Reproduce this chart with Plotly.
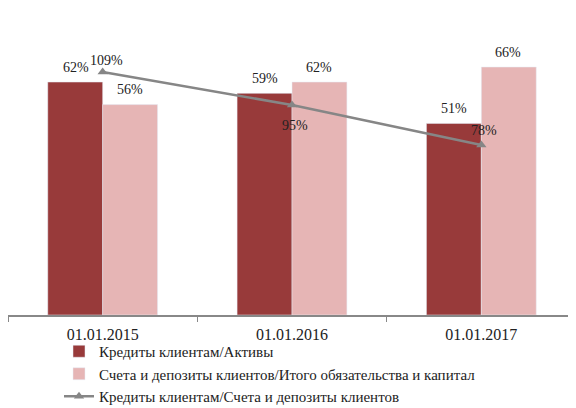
import plotly.graph_objects as go

categories = ["01.01.2015", "01.01.2016", "01.01.2017"]
loans_assets = [62, 59, 51]
deposits_liab = [56, 62, 66]
loans_deposits = [109, 95, 78]

name1 = "Кредиты клиентам/Активы"
name2 = "Счета и депозиты клиентов/Итого обязательства и капитал"
name3 = "Кредиты клиентам/Счета и депозиты клиентов"

FONT = "Liberation Serif"
LBL = dict(family=FONT, size=14, color="#222")

fig = go.Figure()
fig.add_trace(go.Bar(x=categories, y=loans_assets, name=name1, marker_color="#983A3A"))
fig.add_trace(go.Bar(x=categories, y=deposits_liab, name=name2, marker_color="#E6B5B5"))
fig.add_trace(go.Scatter(
    x=categories, y=loans_deposits, name=name3, yaxis="y2",
    mode="lines+markers",
    line=dict(color="#868686", width=2.5),
    marker=dict(symbol="triangle-up", size=9, color="#868686"),
    cliponaxis=False,
))

# data labels
for c, v in zip(categories, loans_assets):
    fig.add_annotation(x=c, y=v, xref="x", yref="y", text=f"{v}%", showarrow=False,
                       xshift=-27, yshift=15, font=LBL)
for c, v in zip(categories, deposits_liab):
    fig.add_annotation(x=c, y=v, xref="x", yref="y", text=f"{v}%", showarrow=False,
                       xshift=27, yshift=15, font=LBL)
line_shifts = [(4, 12), (3, -21), (3, 15)]
for (c, v), (dx, dy) in zip(zip(categories, loans_deposits), line_shifts):
    fig.add_annotation(x=c, y=v, xref="x", yref="y2", text=f"{v}%", showarrow=False,
                       xshift=dx, yshift=dy, font=LBL)

# page body has an 8px margin, so the figure is 8px smaller and offset
fig.update_layout(
    width=568, height=400,
    margin=dict(l=0, r=0, t=44, b=93, autoexpand=False),
    paper_bgcolor="white", plot_bgcolor="white",
    barmode="group", bargap=0.42, bargroupgap=0,
    font=dict(family=FONT, size=16, color="#222"),
    showlegend=True,
    legend=dict(
        orientation="v",
        x=0.0898, xanchor="left", y=-0.076, yanchor="top",
        font=dict(family=FONT, size=15, color="#222"),
        tracegroupgap=0, bgcolor="rgba(0,0,0,0)",
    ),
    xaxis=dict(
        showline=True, linecolor="#888", linewidth=1.5,
        ticks="outside", tickson="boundaries", ticklen=5, tickcolor="#888",
        tickfont=dict(family=FONT, size=16, color="#222"),
        ticklabelstandoff=4,
        showgrid=False, range=[-0.5, 2.5], automargin=False,
    ),
    yaxis=dict(range=[0, 70], visible=False, showgrid=False, automargin=False),
    yaxis2=dict(range=[5.8, 117.5], overlaying="y", visible=False, showgrid=False, automargin=False),
)

fig.write_html("out.html")
